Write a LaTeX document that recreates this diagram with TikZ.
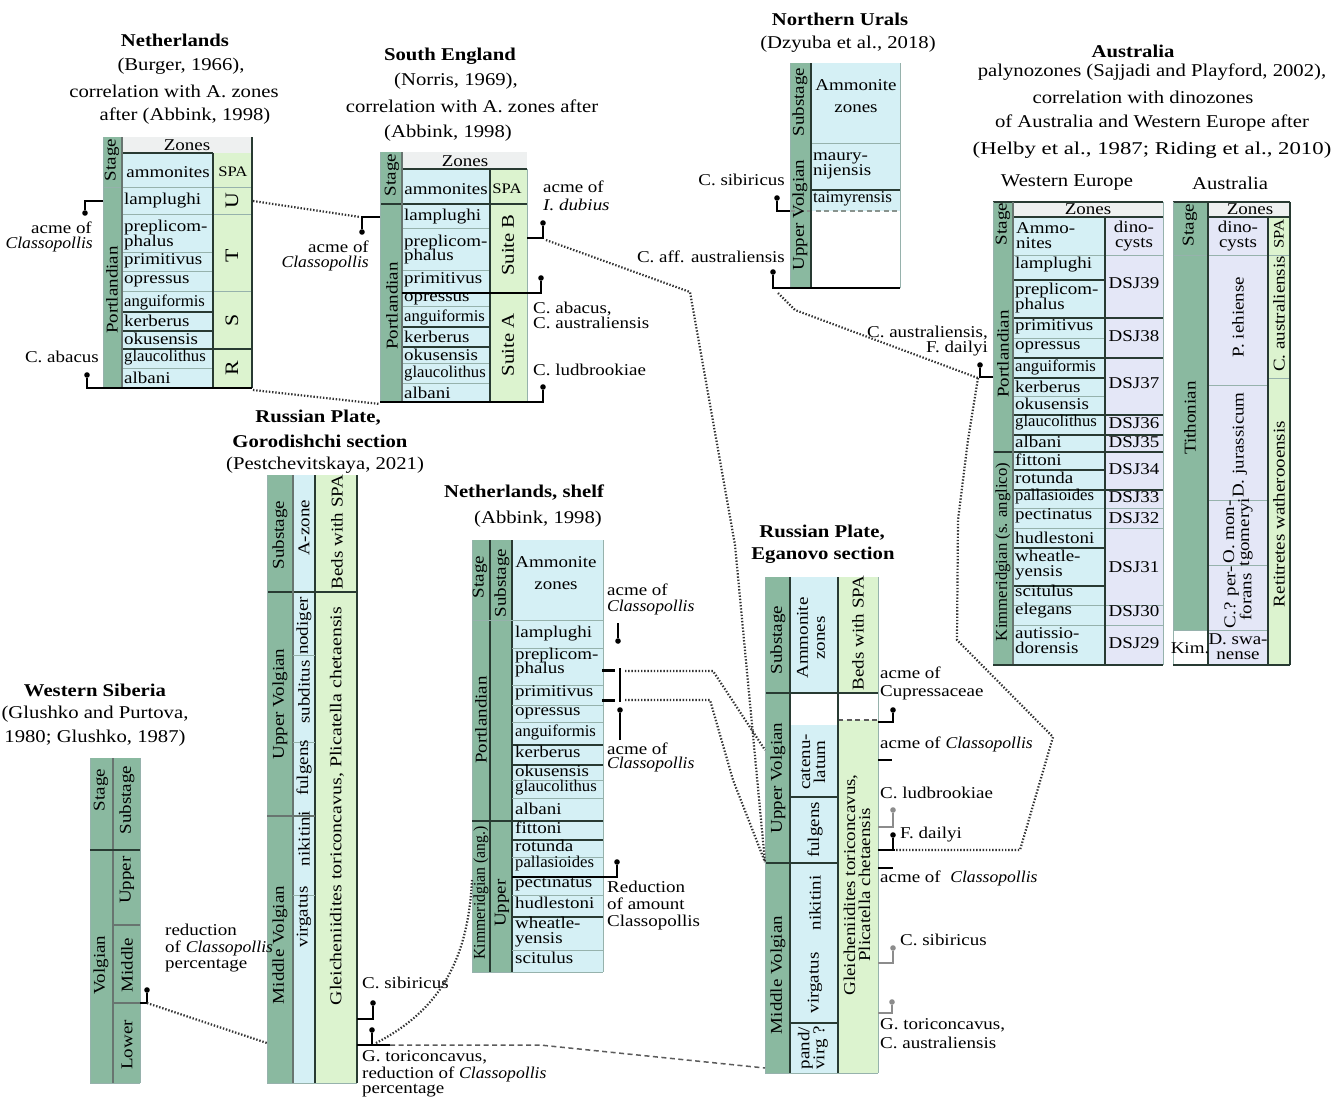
\documentclass[tikz,border=0pt]{standalone}
\usepackage{graphicx}
\usepackage{fontspec}
\setmainfont{Liberation Serif}[FakeStretch=1.15]
\definecolor{stg}{RGB}{138,185,160}
\definecolor{amm}{RGB}{213,240,245}
\definecolor{spa}{RGB}{220,243,207}
\definecolor{dino}{RGB}{228,231,247}
\definecolor{hdr}{RGB}{238,240,240}
\definecolor{ln}{RGB}{40,58,50}
\definecolor{lnl}{RGB}{150,178,172}
\definecolor{dc}{RGB}{50,50,50}
\definecolor{pg}{RGB}{140,140,140}
\newcommand\fsz{\fontsize{16.5}{15}\selectfont}
\newcommand\spaf{\fontsize{14.5}{14}\selectfont}
\newcommand\nc[1]{\scalebox{0.88}[1]{#1}}
\newcommand\cls{\textit{\scalebox{0.93}[1]{Classopollis}}}
\tikzset{
 lb/.style={font=\fsz, inner sep=0pt, align=center},
 lbw/.style={lb, anchor=west, align=left},
 lbe/.style={lb, anchor=east, align=right},
 rl/.style={lb, rotate=90},
 ttl/.style={font=\fontsize{18}{22}\selectfont\bfseries, inner sep=0pt},
 sbt/.style={font=\fontsize{18}{22}\selectfont, inner sep=0pt},
 dk/.style={draw=ln, line width=1.7pt},
 md/.style={draw=ln!70, line width=1.1pt},
 th/.style={draw=lnl, line width=0.7pt},
 dots/.style={draw=dc, line width=2.2pt, dash pattern=on 1.4pt off 1.8pt},
 dsh/.style={draw=dc!80, line width=1.5pt, dash pattern=on 5pt off 3.5pt},
 br/.style={draw=black, line width=1.4pt},
 brl/.style={draw=pg, line width=1.2pt},
}
\newcommand\zl[4]{\node[lbw] (#1) at (#2,#3) {#4};}
\newcommand\zc[4]{\node[lb] (#1) at (#2,#3) {#4};}
\newcommand\zr[4]{\node[rl] (#1) at (#2,#3) {#4};}
\newcommand\hz[4]{\draw[#1] (#2,#4) -- (#3,#4);}
\newcommand\vz[4]{\draw[#1] (#4,#2) -- (#4,#3);}
\newcommand\pin[3][black]{\fill[#1] (#2,#3) circle (2.8);}
\begin{document}
\begin{tikzpicture}[x=1pt,y=-1pt]
\useasboundingbox (0,0) rectangle (1338,1103);
\fill[white] (0,0) rectangle (1338,1103);

%% ================= NETHERLANDS (Burger)
\node[ttl] (nlt) at (175,40) {Netherlands};
\node[sbt] (nls1) at (181,66) {(Burger, 1966),};
\node[sbt] (nls2) at (174,91) {correlation with A. zones};
\node[sbt] (nls3) at (185,116) {after (Abbink, 1998)};
\fill[stg] (103,137) rectangle (122,388);
\fill[hdr] (122,137) rectangle (252,153);
\fill[amm] (122,153) rectangle (213,388);
\fill[spa] (213,153) rectangle (252,388);
\hz{th}{103}{252}{187}
\hz{dk}{122}{213}{153}
\foreach \y in {214,252,271,291,368} {\hz{th}{122}{213}{\y}}
\hz{th}{213}{252}{214}
\hz{th}{213}{252}{291}
\hz{dk}{122}{213}{312}
\hz{dk}{122}{213}{331}
\hz{dk}{122}{252}{349}
\vz{dk}{153}{388}{213}
\vz{dk}{137}{388}{252}
\vz{md}{137}{388}{122}
\vz{th}{137}{388}{103}
\zc{nlz}{187}{145}{Zones}
\zr{nlst}{112}{160}{Stage}
\zc{nlam}{168}{172}{ammonites}
\zc{nlspa}{233}{172}{\spaf SPA}
\zr{nlpo}{112}{290}{Portlandian}
\zl{nl1}{124}{201}{lamplughi}
\zl{nl2}{124}{235}{preplicom-\\phalus}
\zl{nl3}{124}{261}{primitivus}
\zl{nl4}{124}{281}{opressus}
\zl{nl5}{124}{302}{\nc{anguiformis}}
\zl{nl6}{124}{321}{kerberus}
\zl{nl7}{124}{339}{okusensis}
\zl{nl8}{124}{358}{\nc{glaucolithus}}
\zl{nl9}{124}{378}{albani}
\node[rl,font=\fontsize{19}{19}\selectfont] (nlU) at (232,201) {U};
\node[rl,font=\fontsize{19}{19}\selectfont] (nlT) at (232,256) {T};
\node[rl,font=\fontsize{19}{19}\selectfont] (nlS) at (232,320) {S};
\node[rl,font=\fontsize{19}{19}\selectfont] (nlR) at (232,368) {R};
% markers
\draw[br] (103,201) -- (85,201) -- (85,210); \pin{85}{213}
\node[lbe] (nlm1) at (92,228) {acme of};
\node[lbe] (nlm2) at (93,245) {\cls};
\node[lbe] (nlm3) at (99,357) {C. abacus};
\draw[br] (252,388) -- (87,388) -- (87,378); \pin{87}{375}

%% ================= SOUTH ENGLAND
\node[ttl] (set) at (450,56) {South England};
\node[sbt] (ses1) at (456,81) {(Norris, 1969),};
\node[sbt] (ses2) at (472,106) {correlation with A. zones after};
\node[sbt] (ses3) at (448,133) {(Abbink, 1998)};
\fill[stg] (380,152) rectangle (402,402);
\fill[hdr] (402,152) rectangle (527,169);
\fill[amm] (402,169) rectangle (490,402);
\fill[spa] (490,169) rectangle (527,402);
\hz{dk}{402}{527}{169}
\hz{dk}{380}{527}{204}
\foreach \y in {228,270,306,363,383} {\hz{th}{402}{490}{\y}}
\hz{dk}{402}{490}{327}
\hz{dk}{402}{490}{347}
\vz{dk}{169}{402}{490}
\vz{md}{152}{402}{402}
\vz{th}{152}{402}{380}
\vz{th}{169}{402}{527}
\zc{sez}{465}{161}{Zones}
\zr{sest}{392}{175}{Stage}
\zc{seam}{446}{189}{ammonites}
\zc{sespa}{507}{189}{\spaf SPA}
\zr{sepo}{392}{306}{Portlandian}
\zl{se1}{404}{217}{lamplughi}
\zl{se2}{404}{250}{preplicom-\\[-1pt]phalus}
\zl{se3}{404}{280}{primitivus}
\zl{se4}{404}{299}{opressus}
\zl{se5}{404}{317}{\nc{anguiformis}}
\zl{se6}{404}{337}{kerberus}
\zl{se7}{404}{355}{okusensis}
\zl{se8}{404}{374}{\nc{glaucolithus}}
\zl{se9}{404}{393}{albani}
\node[rl,font=\fontsize{18}{18}\selectfont] (seB) at (508,245) {Suite B};
\node[rl,font=\fontsize{18}{18}\selectfont] (seA) at (508,345) {Suite A};
% markers
\draw[br] (380,217) -- (362,217) -- (362,229); \pin{362}{232}
\node[lbe] (sem1) at (369,247) {acme of};
\node[lbe] (sem2) at (369,264) {\cls};
\zl{sem3}{543}{187}{acme of}
\zl{sem4}{543}{205}{\itshape I. dubius}
\draw[br] (527,238) -- (543,238) -- (543,226); \pin{543}{223}
\draw[br] (402,293) -- (541,293) -- (541,281); \pin{541}{278}
\zl{sem5}{533}{315}{C. abacus,\\C. australiensis}
\zl{sem6}{533}{370}{C. ludbrookiae}
\draw[br] (380,402) -- (543,402) -- (543,390); \pin{543}{387}

%% ================= NORTHERN URALS
\node[ttl] (nut) at (840,19) {Northern Urals};
\node[sbt] (nus) at (848,44) {(Dzyuba et al., 2018)};
\fill[stg] (790,63) rectangle (811,288);
\fill[amm] (811,63) rectangle (900,211);
\hz{th}{811}{900}{143}
\hz{dk}{811}{900}{190}
\draw[dsh,draw=ln!55] (790,211) -- (900,211);
\vz{dk}{63}{288}{811}
\vz{th}{63}{288}{790}
\vz{th}{63}{288}{900}
\zr{nust}{800}{102}{Substage}
\zr{nuuv}{800}{215}{Upper Volgian}
\zc{nuam}{856}{96}{Ammonite\\[7pt]zones}
\zl{numa}{813}{166}{maury-\\nijensis}
\zl{nuta}{813}{199}{\scalebox{0.9}[1]{taimyrensis}}
\node[lbe] (num1) at (785,180) {C. sibiricus};
\draw[br] (790,211) -- (777,211) -- (777,201); \pin{777}{198}
\node[lbe] (num2) at (785,257) {C. aff. australiensis};
\draw[br] (900,288) -- (773,288) -- (773,275); \pin{773}{272}

%% ================= AUSTRALIA header
\node[ttl] (aut) at (1133,51) {Australia};
\node[sbt] (aus1) at (1152,72) {palynozones (Sajjadi and Playford, 2002),};
\node[sbt] (aus2) at (1143,97) {correlation with dinozones};
\node[sbt] (aus3) at (1152,123) {of Australia and Western Europe after};
\node[sbt] (aus4) at (1152,150) {\scalebox{1.1}[1]{(Helby et al., 1987; Riding et al., 2010)}};
\node[sbt] (weh) at (1067,183) {Western Europe};
\node[sbt] (auh) at (1230,183) {Australia};

%% ---- Western Europe table
\fill[stg] (993,202) rectangle (1013,665);
\fill[hdr] (1013,202) rectangle (1163,217);
\fill[amm] (1013,217) rectangle (1105,665);
\fill[dino] (1105,217) rectangle (1163,665);
\hz{dk}{993}{1163}{202}
\hz{dk}{1013}{1163}{217}
\hz{th}{1013}{1163}{255}
\foreach \y in {280,378,470,548,586} {\hz{dk}{1013}{1105}{\y}}
\foreach \y in {338,396} {\hz{th}{1013}{1105}{\y}}
\foreach \y in {318,358,415,435,490} {\hz{dk}{1013}{1163}{\y}}
\hz{dk}{993}{1163}{452}
\foreach \y in {508,528,605,625} {\hz{th}{1013}{1163}{\y}}
\vz{dk}{217}{665}{1105}
\vz{md}{202}{665}{1013}
\vz{th}{202}{665}{993}
\vz{th}{202}{665}{1163}
\hz{dk}{993}{1163}{665}
\zr{west}{1003}{224}{Stage}
\zr{wepo}{1003}{354}{Portlandian}
\zr{weki}{1003}{552}{\nc{Kimmeridgian (s. anglico)}}
\zc{wez}{1088}{209}{Zones}
\zl{weam}{1016}{236}{Ammo-\\nites}
\zc{wedi}{1134}{236}{dino-\\cysts}
\foreach \i/\y/\tx in {1/265/lamplughi,2/298/{preplicom-\\phalus},3/327/primitivus,4/347/opressus,5/367/{\nc{anguiformis}},6/387/kerberus,7/404/okusensis,8/423/{\nc{glaucolithus}},9/442/albani,10/460/fittoni,11/478/rotunda,12/497/{\nc{pallasioides}},13/516/pectinatus,14/538/hudlestoni,15/565/{wheatle-\\yensis},16/591/scitulus,17/611/elegans,18/641/{autissio-\\dorensis}} {\zl{we\i}{1015}{\y}{\tx}}
\foreach \i/\y in {39/283,38/336,37/383,36/423,35/442,34/469,33/497,32/518,31/567,30/611,29/643} {\zc{dsj\i}{1134}{\y}{DSJ\i}}
% marker
\node[lbe] (wem1) at (988,333) {C. australiensis,};
\node[lbe] (wem2) at (988,349) {F. dailyi};
\draw[br] (993,377) -- (980,377) -- (980,368); \pin{980}{365}

%% ---- Australia table
\fill[stg] (1173,202) rectangle (1208,630);
\fill[hdr] (1208,202) rectangle (1290,217);
\fill[dino] (1208,217) rectangle (1268,665);
\fill[spa] (1268,217) rectangle (1290,665);
\hz{dk}{1173}{1290}{202}
\hz{dk}{1208}{1290}{217}
\hz{th}{1173}{1290}{255}
\foreach \y in {385,500,565,630} {\hz{th}{1208}{1268}{\y}}
\hz{th}{1268}{1290}{378}
\hz{th}{1173}{1208}{630}
\vz{dk}{202}{665}{1208}
\vz{dk}{217}{665}{1268}
\vz{dk}{202}{665}{1290}
\vz{th}{202}{665}{1173}
\hz{dk}{1173}{1290}{665}
\zr{aust}{1190}{225}{Stage}
\zr{auti}{1190}{418}{Tithonian}
\zc{aukim}{1190}{648}{Kim.}
\zc{auz}{1250}{209}{Zones}
\zc{audi}{1238}{236}{dino-\\cysts}
\zr{auspa}{1279}{234}{\spaf SPA}
\zr{aupi}{1238}{317}{P. iehiense}
\zr{auju}{1240}{445}{D. jurassicum}
\zr{aumo}{1238}{532}{O. mon-\\tgomeryi}
\zr{aupe}{1238}{597}{C.? per-\\forans}
\zc{ausw}{1238}{647}{D. swa-\\nense}
\zr{aucau}{1279}{314}{C. australiensis}
\zr{aure}{1279}{514}{Retitretes watherooensis}

%% ================= RUSSIAN PLATE, GORODISHCHI
\node[ttl] (got1) at (318,418) {Russian Plate,};
\node[ttl] (got2) at (320,441) {Gorodishchi section};
\node[sbt] (gos) at (325,465) {(Pestchevitskaya, 2021)};
\fill[stg] (267,475) rectangle (293,1083);
\fill[amm] (293,475) rectangle (315,1083);
\fill[spa] (315,475) rectangle (357,1083);
\hz{dk}{267}{357}{592}
\vz{md}{475}{1083}{293}
\vz{dk}{475}{1083}{315}
\vz{dk}{475}{1083}{357}
\vz{th}{475}{1083}{267}
\hz{th}{267}{357}{1083}
\hz{th}{293}{315}{655}
\hz{th}{293}{315}{742}
\hz{md}{267}{315}{816}
\hz{th}{293}{315}{895}
\zr{gosu}{280}{535}{Substage}
\zr{goaz}{304}{528}{A-zone}
\zr{gobe}{337}{532}{Beds with SPA}
\zr{gouv}{280}{704}{Upper Volgian}
\zr{gomv}{280}{945}{Middle Volgian}
\zr{go1}{304}{626}{nodiger}
\zr{go2}{304}{692}{subditus}
\zr{go3}{304}{768}{fulgens}
\zr{go4}{304}{839}{nikitini}
\zr{go5}{304}{917}{virgatus}
\zr{gogl}{337}{806}{\scalebox{1.05}[1]{Gleicheniidites toriconcavus, Plicatella chetaensis}}
\zl{gom1}{362}{983}{C. sibiricus}
\draw[br] (357,1019) -- (373,1019) -- (373,1006); \pin{373}{1003}
\draw[br] (357,1045) -- (390,1045);
\draw[br] (372,1045) -- (372,1033); \pin{372}{1030}
\zl{gom2}{362}{1057}{G. toriconcavus,}
\zl{gom3}{362}{1074}{reduction of \cls}
\zl{gom4}{362}{1091}{percentage}

%% ================= WESTERN SIBERIA
\node[ttl] (wst) at (95,690) {Western Siberia};
\node[sbt] (wss1) at (95,714) {(Glushko and Purtova,};
\node[sbt] (wss2) at (95,738) {1980; Glushko, 1987)};
\fill[stg] (90,758) rectangle (140,1083);
\vz{md}{758}{1083}{113}
\vz{th}{758}{1083}{90}
\vz{th}{758}{1083}{140}
\hz{dk}{90}{140}{850}
\hz{md}{113}{140}{925}
\hz{md}{113}{140}{1003}
\hz{th}{90}{140}{1083}
\zr{wsst}{101}{790}{Stage}
\zr{wssu}{127}{800}{Substage}
\zr{wsvo}{101}{965}{Volgian}
\zr{wsup}{127}{880}{Upper}
\zr{wsmi}{127}{965}{Middle}
\zr{wslo}{127}{1045}{Lower}
\zl{wsm1}{165}{930}{reduction}
\zl{wsm2}{165}{948}{of \cls}
\zl{wsm3}{165}{966}{percentage}
\draw[br] (140,1003) -- (147,1003) -- (147,993); \pin{147}{990}

%% ================= NETHERLANDS, SHELF
\node[ttl] (nst) at (524,493) {Netherlands, shelf};
\node[sbt] (nss) at (538,519) {(Abbink, 1998)};
\fill[stg] (472,540) rectangle (512,972);
\fill[amm] (512,540) rectangle (603,972);
\vz{dk}{540}{972}{490}
\vz{dk}{540}{972}{512}
\vz{th}{540}{972}{472}
\vz{th}{540}{972}{603}
\hz{th}{472}{603}{620}
\foreach \y in {648,685,705,722,780,798,857,895,950} {\hz{th}{512}{603}{\y}}
\foreach \y in {745,765,840,917} {\hz{dk}{512}{603}{\y}}
\hz{dk}{472}{603}{821}
\hz{th}{472}{603}{972}
\zr{nsst}{480}{577}{Stage}
\zr{nssu}{502}{583}{Substage}
\zc{nsam}{556}{573}{Ammonite\\[7pt]zones}
\zr{nspo}{481}{720}{Portlandian}
\zr{nski}{481}{893}{\scalebox{0.83}[1]{Kimmeridgian (ang.)}}
\zr{nsup}{502}{903}{Upper}
\foreach \i/\y/\tx in {1/634/lamplughi,2/663/{preplicom-\\[-1pt]phalus},3/693/primitivus,4/713/opressus,5/732/{\nc{anguiformis}},6/752/kerberus,7/771/okusensis,8/788/{\nc{glaucolithus}},9/809/albani,10/828/fittoni,11/846/rotunda,12/864/{\nc{pallasioides}},13/884/pectinatus,14/903/hudlestoni,15/932/{wheatle-\\yensis},16/958/scitulus} {\zl{ns\i}{515}{\y}{\tx}}
\zl{nsm1}{607}{590}{acme of}
\zl{nsm2}{607}{608}{\cls}
\draw[br] (618,623) -- (618,638); \pin{618}{641}
\draw[draw=black,line width=3pt] (602,670) -- (615,670);
\draw[draw=black,line width=3pt] (602,700) -- (615,700);
\draw[br] (620,668) -- (620,702);
\draw[br] (620,740) -- (620,713); \pin{620}{710}
\zl{nsm3}{607}{749}{acme of}
\zl{nsm4}{607}{765}{\cls}
\draw[br] (512,877) -- (617,877) -- (617,865); \pin{617}{862}
\zl{nsm5}{607}{887}{Reduction}
\zl{nsm6}{607}{904}{of amount}
\zl{nsm7}{607}{923}{Classopollis}

%% ================= RUSSIAN PLATE, EGANOVO
\node[ttl] (egt1) at (822,533) {Russian Plate,};
\node[ttl] (egt2) at (823,555) {Eganovo section};
\fill[stg] (765,577) rectangle (790,1073);
\fill[amm] (790,577) rectangle (838,693);
\fill[amm] (790,725) rectangle (838,1073);
\fill[spa] (838,577) rectangle (878,693);
\fill[spa] (838,720) rectangle (878,1073);
\hz{dk}{765}{878}{693}
\draw[dsh] (838,720) -- (878,720);
\hz{dk}{790}{838}{797}
\hz{dk}{765}{838}{863}
\hz{dk}{790}{838}{1023}
\vz{dk}{577}{1073}{790}
\vz{dk}{577}{1073}{838}
\vz{th}{577}{1073}{878}
\vz{th}{577}{1073}{765}
\hz{th}{765}{878}{1073}
\zr{egsu}{778}{640}{Substage}
\zr{egam}{811}{638}{Ammonite\\[2pt]zones}
\zr{egbe}{858}{633}{Beds with SPA}
\zr{eguv}{778}{778}{Upper Volgian}
\zr{egmv}{778}{975}{Middle Volgian}
\zr{egca}{813}{762}{catenu-\\latum}
\zr{egfu}{815}{830}{fulgens}
\zr{egni}{815}{903}{nikitini}
\zr{egvi}{815}{983}{virgatus}
\zr{egpa}{813}{1048}{pand/\\virg ?}
\zr{egsp}{857}{885}{Gleicheniidites toriconcavus,\\Plicatella chetaensis}
\zl{egm1}{880}{673}{acme of}
\zl{egm2}{880}{693}{Cupressaceae}
\draw[br] (878,722) -- (893,722) -- (893,713); \pin{893}{710}
\zl{egm3}{880}{744}{acme of \cls}
\hz{br}{878}{892}{760}
\zl{egm4}{880}{793}{C. ludbrookiae}
\draw[brl] (878,827) -- (893,827) -- (893,813); \pin[pg]{893}{810}
\draw[br] (878,850) -- (895,850); \draw[br] (893,850) -- (893,838); \pin{893}{835}
\zl{egm5}{900}{835}{F. dailyi}
\hz{br}{878}{893}{868}
\zl{egm6}{880}{878}{acme of\ \ \cls}
\zl{egm7}{900}{940}{C. sibiricus}
\draw[brl] (878,963) -- (893,963) -- (893,951); \pin[pg]{893}{948}
\draw[brl] (878,1013) -- (892,1013) -- (892,1005); \pin[pg]{892}{1002}
\zl{egm8}{880}{1025}{G. toriconcavus,}
\zl{egm9}{880}{1043}{C. australiensis}

%% ================= CONNECTORS
\coordinate (cNLu) at (253,201); \coordinate (cSEu) at (360,217);
\draw[dots] (cNLu) -- (cSEu);
\coordinate (cNLb) at (253,390); \coordinate (cSEb) at (380,404);
\draw[dots] (cNLb) -- (cSEb);
\coordinate (cSEd) at (546,240); \coordinate (cEGa) at (765,862);
\draw[dots] (cSEd) -- (690,292) -- (735,545) -- (cEGa);
\coordinate (cNS1) at (625,671); \coordinate (cEG1) at (765,750);
\draw[dots] (cNS1) -- (713,671) -- (cEG1);
\coordinate (cNS2) at (625,700);
\draw[dots] (cNS2) -- (710,700) -- (733,780) -- (cEGa);
\coordinate (cNU) at (778,293); \coordinate (cWE) at (978,378);
\draw[dots] (cNU) -- (795,310) -- (cWE);
\coordinate (cEGf) at (895,850);
\draw[dots] (cWE) -- (968,440) -- (958,520) -- (957,640) -- (1053,737) -- (1020,850) -- (cEGf);
\coordinate (cWS) at (147,1003); \coordinate (cGOl) at (267,1043);
\draw[dots] (cWS) -- (cGOl);
\coordinate (cGOr) at (376,1043); \coordinate (cNSk) at (472,880);
\draw[dots] (cGOr) .. controls (440,1010) and (468,960) .. (cNSk);
\coordinate (cGOd) at (390,1045); \coordinate (cEGb) at (765,1068);
\draw[dsh] (cGOd) -- (540,1045) -- (cEGb);
\end{tikzpicture}
\end{document}
